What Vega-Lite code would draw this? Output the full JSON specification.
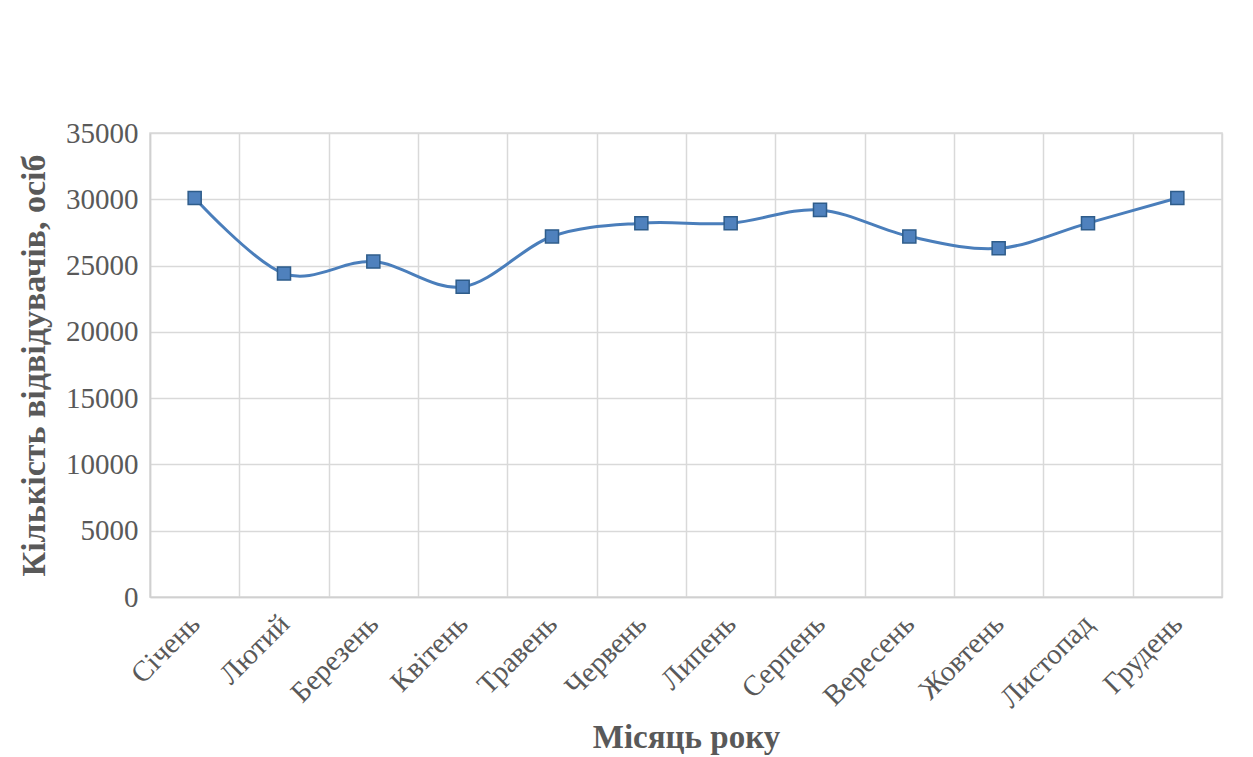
{
  "$schema": "https://vega.github.io/schema/vega-lite/v6.json",
  "autosize": "none",
  "width": 1072,
  "height": 464,
  "padding": {"left": 150, "top": 133, "right": 31, "bottom": 160},
  "background": "white",
  "data": {"values": [
    {"month": "Січень", "visitors": 30100},
    {"month": "Лютий", "visitors": 24400},
    {"month": "Березень", "visitors": 25300},
    {"month": "Квітень", "visitors": 23400},
    {"month": "Травень", "visitors": 27200},
    {"month": "Червень", "visitors": 28200},
    {"month": "Липень", "visitors": 28200},
    {"month": "Серпень", "visitors": 29200},
    {"month": "Вересень", "visitors": 27200},
    {"month": "Жовтень", "visitors": 26300},
    {"month": "Листопад", "visitors": 28200},
    {"month": "Грудень", "visitors": 30100}
  ]},
  "config": {
    "view": {"stroke": "#d9d9d9", "strokeWidth": 1.5},
    "font": "Liberation Serif",
    "axis": {
      "labelFont": "Liberation Serif",
      "titleFont": "Liberation Serif",
      "labelColor": "#595959",
      "titleColor": "#595959",
      "gridColor": "#d9d9d9",
      "gridWidth": 1.5,
      "domainColor": "#d0d0d0",
      "domainWidth": 1.5
    }
  },
  "encoding": {
    "x": {
      "field": "month",
      "type": "nominal",
      "sort": null,
      "scale": {"type": "band", "paddingInner": 0, "paddingOuter": 0},
      "axis": {
        "title": "Місяць року",
        "titleFontSize": 33,
        "titleFontWeight": "bold",
        "titlePadding": 8,
        "labelFontSize": 29,
        "labelAngle": -45,
        "labelAlign": "right",
        "labelBaseline": "middle",
        "labelPadding": 22,
        "ticks": false,
        "grid": true,
        "tickBand": "extent"
      }
    },
    "y": {
      "field": "visitors",
      "type": "quantitative",
      "scale": {"domain": [0, 35000], "nice": false},
      "axis": {
        "title": "Кількість відвідувачів, осіб",
        "titleFontSize": 34,
        "titleFontWeight": "bold",
        "titlePadding": 14,
        "labelFontSize": 29,
        "labelPadding": 12,
        "ticks": false,
        "values": [0, 5000, 10000, 15000, 20000, 25000, 30000, 35000],
        "format": "d",
        "grid": true
      }
    }
  },
  "layer": [
    {"mark": {"type": "line", "interpolate": "cardinal", "color": "#4A7EBB", "strokeWidth": 3}},
    {"mark": {"type": "point", "shape": "square", "filled": true, "size": 170, "fill": "#4F81BD", "stroke": "#2E5C8A", "strokeWidth": 1.5, "opacity": 1}}
  ]
}
